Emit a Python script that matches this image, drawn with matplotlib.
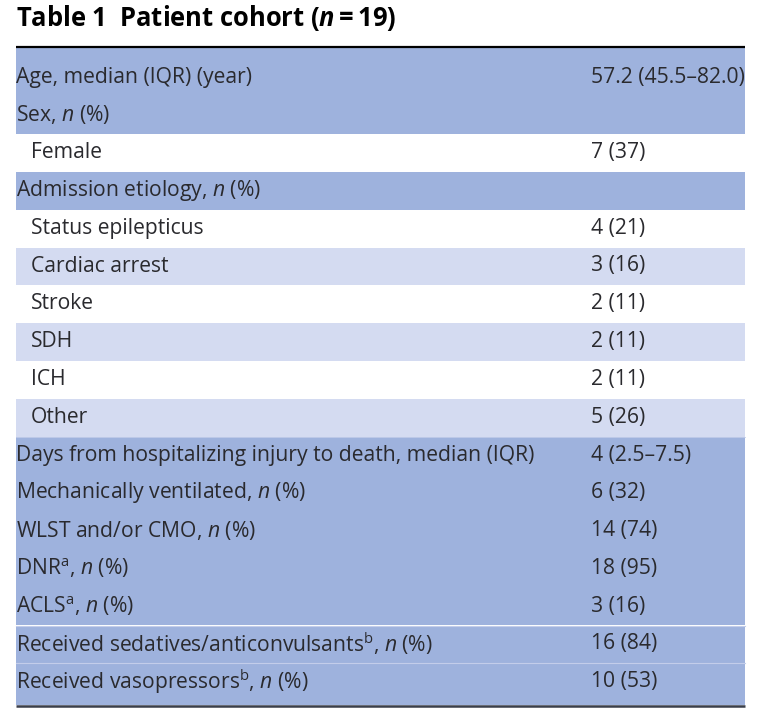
import matplotlib
matplotlib.use("Agg")
import matplotlib.pyplot as plt
from matplotlib.patches import Rectangle

# table content
labels = [
    "Age, median (IQR) (year)",
    "Sex, $\\mathit{n}$ (%)",
    "Female",
    "Admission etiology, $\\mathit{n}$ (%)",
    "Status epilepticus",
    "Cardiac arrest",
    "Stroke",
    "SDH",
    "ICH",
    "Other",
    "Days from hospitalizing injury to death, median (IQR)",
    "Mechanically ventilated, $\\mathit{n}$ (%)",
    "WLST and/or CMO, $\\mathit{n}$ (%)",
    "DNR$^{\\mathrm{a}}$, $\\mathit{n}$ (%)",
    "ACLS$^{\\mathrm{a}}$, $\\mathit{n}$ (%)",
    "Received sedatives/anticonvulsants$^{\\mathrm{b}}$, $\\mathit{n}$ (%)",
    "Received vasopressors$^{\\mathrm{b}}$, $\\mathit{n}$ (%)",
]
values = [
    "57.2 (45.5\u201382.0)", "", "7 (37)", "",
    "4 (21)", "3 (16)", "2 (11)", "2 (11)", "2 (11)", "5 (26)",
    "4 (2.5\u20137.5)", "6 (32)", "14 (74)", "18 (95)", "3 (16)",
    "16 (84)", "10 (53)",
]
# True = sub-category row (indented)
is_sub = [False, False, True, False, True, True, True, True, True, True,
          False, False, False, False, False, False, False]

title = "Table 1  Patient cohort ($\\mathbfit{n}\\mathbf{=}$19)"

plt.rcParams["font.family"] = ["Open Sans", "DejaVu Sans"]
plt.rcParams["mathtext.fontset"] = "custom"
plt.rcParams["mathtext.rm"] = "Open Sans"
plt.rcParams["mathtext.it"] = "Open Sans:italic"
plt.rcParams["mathtext.bf"] = "Open Sans:bold"
plt.rcParams["mathtext.bfit"] = "Open Sans:italic:bold"

DARK = "#9eb2dd"
LIGHT = "#d4dbf1"
TEXT = "#2a2a2e"

fig = plt.figure(figsize=(7.6, 7.14), dpi=100)
ax = fig.add_axes([0, 0, 1, 1])
ax.set_xlim(0, 760)
ax.set_ylim(714, 0)
ax.axis("off")

left, right = 16, 745
top_rule = 47
row_h = 37.8
first = 58.5
bottom = 705

ax.text(left, 18, title, fontsize=18.4, fontweight="bold", color="black",
        va="center", ha="left")
ax.plot([left, right], [top_rule, top_rule], color="black", lw=1.6,
        solid_capstyle="butt", zorder=3)

sub_count = 0
n = len(labels)
for i, (lab, val, sub) in enumerate(zip(labels, values, is_sub)):
    y0 = first + row_h * i
    y1 = y0 + row_h
    if i == 0:
        y0 = top_rule
    if i == n - 1:
        y1 = bottom
    if sub:
        color = "white" if sub_count % 2 == 0 else LIGHT
        sub_count += 1
    else:
        color = DARK
        sub_count = 0
    ax.add_patch(Rectangle((left, y0), right - left, y1 - y0,
                           facecolor=color, edgecolor="none", zorder=1))
    yc = first + row_h * i + 18.5
    ax.text(left + (15 if sub else 0), yc, lab, fontsize=15.2, color=TEXT,
            va="center", ha="left", zorder=4)
    ax.text(591, yc, val, fontsize=15.2, color=TEXT, va="center",
            ha="left", zorder=4)

# thin separators in lower block
for i in (15, 16):
    y = first + row_h * i
    ax.plot([left, right], [y, y], color="#c3cdea", lw=0.8, zorder=2)
y = first + row_h * 10
ax.plot([left, right], [y, y], color="#c3cdea", lw=0.6, zorder=2)

ax.plot([left, right], [bottom + 1, bottom + 1], color="#3a3f4a", lw=1.8,
        solid_capstyle="butt", zorder=3)

fig.savefig("out.png", dpi=100)
